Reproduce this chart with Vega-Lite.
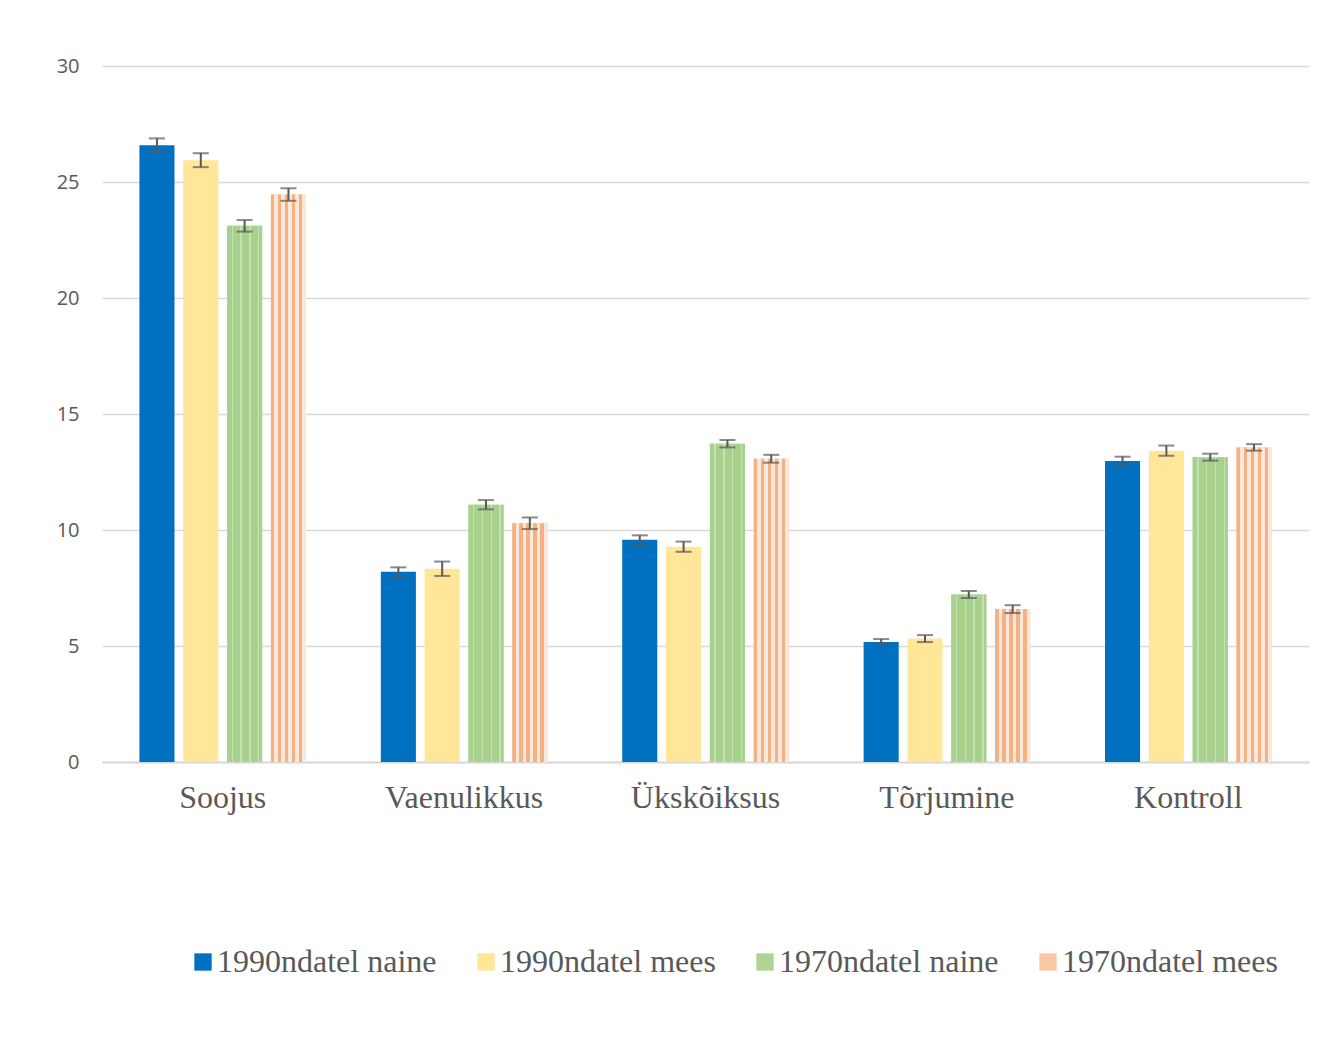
{
  "$schema": "https://vega.github.io/schema/vega-lite/v6.json",
  "width": 1207,
  "height": 696,
  "autosize": {"type": "none"},
  "padding": {"left": 102, "top": 66, "right": 35, "bottom": 297},
  "background": "white",
  "config": {"view": {"stroke": null}},
  "data": {
    "values": [
      {"category": "Soojus", "group": "1990ndatel naine", "value": 26.58, "lo": 26.28, "hi": 26.88},
      {"category": "Soojus", "group": "1990ndatel mees", "value": 25.94, "lo": 25.64, "hi": 26.24},
      {"category": "Soojus", "group": "1970ndatel naine", "value": 23.11, "lo": 22.86, "hi": 23.36},
      {"category": "Soojus", "group": "1970ndatel mees", "value": 24.46, "lo": 24.19, "hi": 24.73},
      {"category": "Vaenulikkus", "group": "1990ndatel naine", "value": 8.2, "lo": 8.01, "hi": 8.39},
      {"category": "Vaenulikkus", "group": "1990ndatel mees", "value": 8.33, "lo": 8.02, "hi": 8.64},
      {"category": "Vaenulikkus", "group": "1970ndatel naine", "value": 11.09, "lo": 10.89, "hi": 11.29},
      {"category": "Vaenulikkus", "group": "1970ndatel mees", "value": 10.29, "lo": 10.04, "hi": 10.54},
      {"category": "Ükskõiksus", "group": "1990ndatel naine", "value": 9.58, "lo": 9.39, "hi": 9.77},
      {"category": "Ükskõiksus", "group": "1990ndatel mees", "value": 9.28, "lo": 9.06, "hi": 9.5},
      {"category": "Ükskõiksus", "group": "1970ndatel naine", "value": 13.72, "lo": 13.56, "hi": 13.88},
      {"category": "Ükskõiksus", "group": "1970ndatel mees", "value": 13.07, "lo": 12.9, "hi": 13.24},
      {"category": "Tõrjumine", "group": "1990ndatel naine", "value": 5.17, "lo": 5.04, "hi": 5.3},
      {"category": "Tõrjumine", "group": "1990ndatel mees", "value": 5.32, "lo": 5.17, "hi": 5.47},
      {"category": "Tõrjumine", "group": "1970ndatel naine", "value": 7.22, "lo": 7.07, "hi": 7.37},
      {"category": "Tõrjumine", "group": "1970ndatel mees", "value": 6.59, "lo": 6.42, "hi": 6.76},
      {"category": "Kontroll", "group": "1990ndatel naine", "value": 12.97, "lo": 12.78, "hi": 13.16},
      {"category": "Kontroll", "group": "1990ndatel mees", "value": 13.42, "lo": 13.2, "hi": 13.64},
      {"category": "Kontroll", "group": "1970ndatel naine", "value": 13.14, "lo": 12.99, "hi": 13.29},
      {"category": "Kontroll", "group": "1970ndatel mees", "value": 13.56, "lo": 13.42, "hi": 13.7}
    ]
  },
  "encoding": {
    "x": {
      "field": "category",
      "type": "nominal",
      "sort": ["Soojus", "Vaenulikkus", "Ükskõiksus", "Tõrjumine", "Kontroll"],
      "scale": {"paddingInner": 0.31, "paddingOuter": 0.155},
      "axis": {
        "title": null,
        "labelAngle": 0,
        "ticks": false,
        "domainColor": "#D9D9D9",
        "domainWidth": 2,
        "labelFont": "Liberation Serif",
        "labelFontSize": 32,
        "labelColor": "#595959",
        "labelPadding": 20
      }
    },
    "xOffset": {
      "field": "group",
      "type": "nominal",
      "sort": ["1990ndatel naine", "1990ndatel mees", "1970ndatel naine", "1970ndatel mees"],
      "scale": {"paddingInner": 0.2}
    }
  },
  "layer": [
    {
      "mark": {"type": "bar"},
      "encoding": {
        "y": {
          "field": "value",
          "type": "quantitative",
          "scale": {"domain": [0, 30]},
          "axis": {
            "title": null,
            "values": [0, 5, 10, 15, 20, 25, 30],
            "grid": true,
            "gridColor": "#D9D9D9",
            "gridWidth": 1.5,
            "domain": false,
            "ticks": false,
            "labelFont": "Open Sans",
            "labelFontSize": 20,
            "labelColor": "#595959",
            "labelPadding": 23
          }
        },
        "color": {
          "field": "group",
          "type": "nominal",
          "sort": ["1990ndatel naine", "1990ndatel mees", "1970ndatel naine", "1970ndatel mees"],
          "scale": {
            "domain": ["1990ndatel naine", "1990ndatel mees", "1970ndatel naine", "1970ndatel mees"],
            "range": ["#0070C0", "#FFE699", "#AED393", "#F8C7A4"]
          },
          "legend": {
            "title": null,
            "orient": "none",
            "legendX": 85,
            "legendY": 880,
            "direction": "horizontal",
            "symbolType": "square",
            "symbolSize": 300,
            "symbolStrokeWidth": 0,
            "labelFont": "Liberation Serif",
            "labelFontSize": 32,
            "labelColor": "#595959",
            "labelOffset": -2,
            "columnPadding": 33,
            "labelLimit": 400
          }
        }
      }
    },
    {
      "transform": [{"filter": "datum.group === '1970ndatel naine'"}],
      "mark": {
        "type": "bar",
        "color": {
          "gradient": "linear",
          "x1": 0, "y1": 0, "x2": 1, "y2": 0,
          "stops": [
            {"offset": 0, "color": "#A9D18E"}, {"offset": 0.13, "color": "#A9D18E"},
            {"offset": 0.13, "color": "#C6E2B3"}, {"offset": 0.17, "color": "#C6E2B3"},
            {"offset": 0.17, "color": "#A9D18E"}, {"offset": 0.38, "color": "#A9D18E"},
            {"offset": 0.38, "color": "#C6E2B3"}, {"offset": 0.42, "color": "#C6E2B3"},
            {"offset": 0.42, "color": "#A9D18E"}, {"offset": 0.63, "color": "#A9D18E"},
            {"offset": 0.63, "color": "#C6E2B3"}, {"offset": 0.67, "color": "#C6E2B3"},
            {"offset": 0.67, "color": "#A9D18E"}, {"offset": 0.88, "color": "#A9D18E"},
            {"offset": 0.88, "color": "#C6E2B3"}, {"offset": 0.92, "color": "#C6E2B3"},
            {"offset": 0.92, "color": "#A9D18E"}, {"offset": 1, "color": "#A9D18E"}
          ]
        }
      },
      "encoding": {
        "y": {"field": "value", "type": "quantitative"}
      }
    },
    {
      "transform": [{"filter": "datum.group === '1970ndatel mees'"}],
      "mark": {
        "type": "bar",
        "color": {
          "gradient": "linear",
          "x1": 0, "y1": 0, "x2": 1, "y2": 0,
          "stops": [
            {"offset": 0, "color": "#F4B183"}, {"offset": 0.1, "color": "#F4B183"},
            {"offset": 0.1, "color": "#FCE8DA"}, {"offset": 0.2, "color": "#FCE8DA"},
            {"offset": 0.2, "color": "#F4B183"}, {"offset": 0.3, "color": "#F4B183"},
            {"offset": 0.3, "color": "#FCE8DA"}, {"offset": 0.4, "color": "#FCE8DA"},
            {"offset": 0.4, "color": "#F4B183"}, {"offset": 0.5, "color": "#F4B183"},
            {"offset": 0.5, "color": "#FCE8DA"}, {"offset": 0.6, "color": "#FCE8DA"},
            {"offset": 0.6, "color": "#F4B183"}, {"offset": 0.7, "color": "#F4B183"},
            {"offset": 0.7, "color": "#FCE8DA"}, {"offset": 0.8, "color": "#FCE8DA"},
            {"offset": 0.8, "color": "#F4B183"}, {"offset": 0.9, "color": "#F4B183"},
            {"offset": 0.9, "color": "#FCE8DA"}, {"offset": 1, "color": "#FCE8DA"}
          ]
        }
      },
      "encoding": {
        "y": {"field": "value", "type": "quantitative"}
      }
    },
    {
      "mark": {"type": "rule", "color": "#595959", "strokeWidth": 2},
      "encoding": {
        "y": {"field": "lo", "type": "quantitative"},
        "y2": {"field": "hi"}
      }
    },
    {
      "mark": {"type": "tick", "color": "#595959", "thickness": 2, "size": 16, "orient": "horizontal"},
      "encoding": {"y": {"field": "lo", "type": "quantitative"}}
    },
    {
      "mark": {"type": "tick", "color": "#595959", "thickness": 2, "size": 16, "orient": "horizontal"},
      "encoding": {"y": {"field": "hi", "type": "quantitative"}}
    }
  ]
}
